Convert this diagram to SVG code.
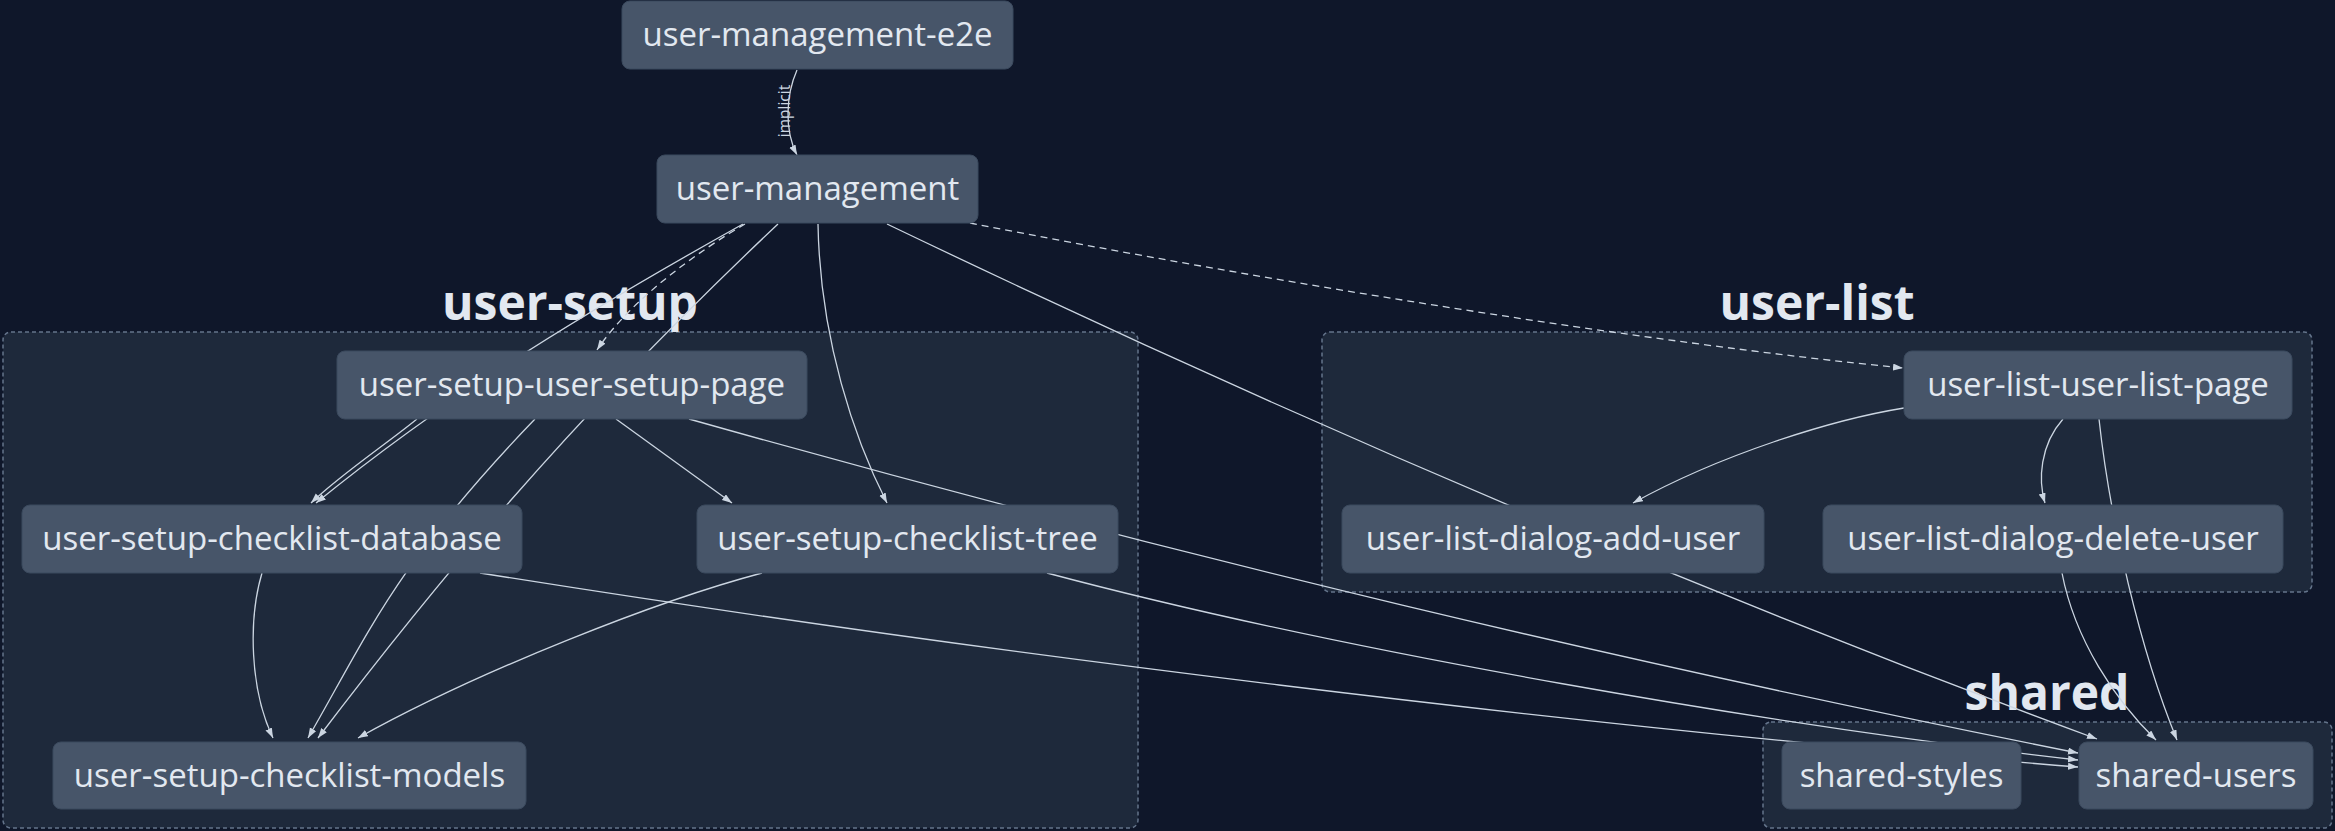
<svg xmlns="http://www.w3.org/2000/svg" width="2335" height="831" viewBox="0 0 2335 831">
<defs>
<style>
.cl{fill:#1e293b;stroke:#64748b;stroke-width:1.5;stroke-dasharray:4 3}
.ct{font-family:"Open Sans","Noto Sans",sans-serif;font-weight:700;font-size:48px;fill:#e2e8f0;text-anchor:middle}
.nd rect{fill:#475569;stroke:#3b4a5e;stroke-width:1}
.nd text{font-family:"Open Sans","Noto Sans",sans-serif;font-size:33px;fill:#e2e8f0;text-anchor:middle}
.e{fill:none;stroke:#cbd5e1;stroke-width:1.3;marker-end:url(#ah)}
.d{stroke-dasharray:7 5}
.lbl{font-family:"Open Sans","Noto Sans",sans-serif;font-size:15.5px;fill:#cbd5e1;text-anchor:middle}
</style>
<marker id="ah" markerUnits="userSpaceOnUse" markerWidth="11" markerHeight="8" refX="10" refY="3.5" orient="auto">
<path d="M0,0 L10,3.5 L0,7 z" fill="#cbd5e1"/>
</marker>
</defs>
<rect width="2335" height="831" fill="#0f172a"/>
<g id="cluster-user-setup">
<rect class="cl" x="3" y="332" width="1135" height="496" rx="8"/>
<text class="ct" x="570" y="320">user-setup</text>
</g>
<g id="cluster-user-list">
<rect class="cl" x="1322" y="332" width="990" height="260" rx="8"/>
<text class="ct" x="1817" y="320">user-list</text>
</g>
<g id="cluster-shared">
<rect class="cl" x="1763" y="722" width="569" height="106" rx="8"/>
<text class="ct" x="2047" y="710">shared</text>
</g>
<g id="connectors">
<path class="e" d="M797,70 C786,95 784,130 797,155"/>
<text class="lbl" transform="translate(790,111) rotate(-90)">implicit</text>
<path class="e d" d="M745,224 C700,250 630,300 597,350"/>
<path class="e" d="M743,224 C564,324 439,403 316,503"/>
<path class="e" d="M417,419 C385,445 340,475 311,503"/>
<path class="e" d="M778,224 C566,424 432,588 318,738"/>
<path class="e" d="M818,224 C820,340 855,440 887,503"/>
<path class="e" d="M887,224 C1287,416 1697,591 2097,739"/>
<path class="e d" d="M970,223 C1270,282 1650,343 1903,368"/>
<path class="e" d="M616,419 L732,503"/>
<path class="e" d="M535,419 C395,564 366,638 308,738"/>
<path class="e" d="M689,419 C1189,560 1628,663 2078,753"/>
<path class="e" d="M262,573 C248,620 250,690 273,738"/>
<path class="e" d="M480,573 C980,653 1578,727 2078,767"/>
<path class="e" d="M762,573 C660,600 480,670 358,738"/>
<path class="e" d="M1047,573 C1347,653 1778,726 2078,760"/>
<path class="e" d="M1904,408 C1830,420 1720,455 1633,503"/>
<path class="e" d="M2063,419 C2040,445 2038,480 2045,503"/>
<path class="e" d="M2099,419 C2110,520 2140,650 2177,740"/>
<path class="e" d="M2062,573 C2075,640 2115,700 2156,740"/>
</g>
<g id="user-management-e2e" class="nd"><rect x="622" y="1" width="391" height="68" rx="8"/><text x="817.5" y="46">user-management-e2e</text></g>
<g id="user-management" class="nd"><rect x="657" y="155" width="321" height="68" rx="8"/><text x="817.5" y="200">user-management</text></g>
<g id="user-setup-user-setup-page" class="nd"><rect x="337" y="351" width="470" height="68" rx="8"/><text x="572" y="396">user-setup-user-setup-page</text></g>
<g id="user-setup-checklist-database" class="nd"><rect x="22" y="505" width="500" height="68" rx="8"/><text x="272" y="550">user-setup-checklist-database</text></g>
<g id="user-setup-checklist-tree" class="nd"><rect x="697" y="505" width="421" height="68" rx="8"/><text x="907.5" y="550">user-setup-checklist-tree</text></g>
<g id="user-setup-checklist-models" class="nd"><rect x="53" y="742" width="473" height="67" rx="8"/><text x="289.5" y="787">user-setup-checklist-models</text></g>
<g id="user-list-user-list-page" class="nd"><rect x="1904" y="351" width="388" height="68" rx="8"/><text x="2098" y="396">user-list-user-list-page</text></g>
<g id="user-list-dialog-add-user" class="nd"><rect x="1342" y="505" width="422" height="68" rx="8"/><text x="1553" y="550">user-list-dialog-add-user</text></g>
<g id="user-list-dialog-delete-user" class="nd"><rect x="1823" y="505" width="460" height="68" rx="8"/><text x="2053" y="550">user-list-dialog-delete-user</text></g>
<g id="shared-styles" class="nd"><rect x="1782" y="742" width="239" height="67" rx="8"/><text x="1901.5" y="787">shared-styles</text></g>
<g id="shared-users" class="nd"><rect x="2079" y="742" width="234" height="67" rx="8"/><text x="2196" y="787">shared-users</text></g>
</svg>
